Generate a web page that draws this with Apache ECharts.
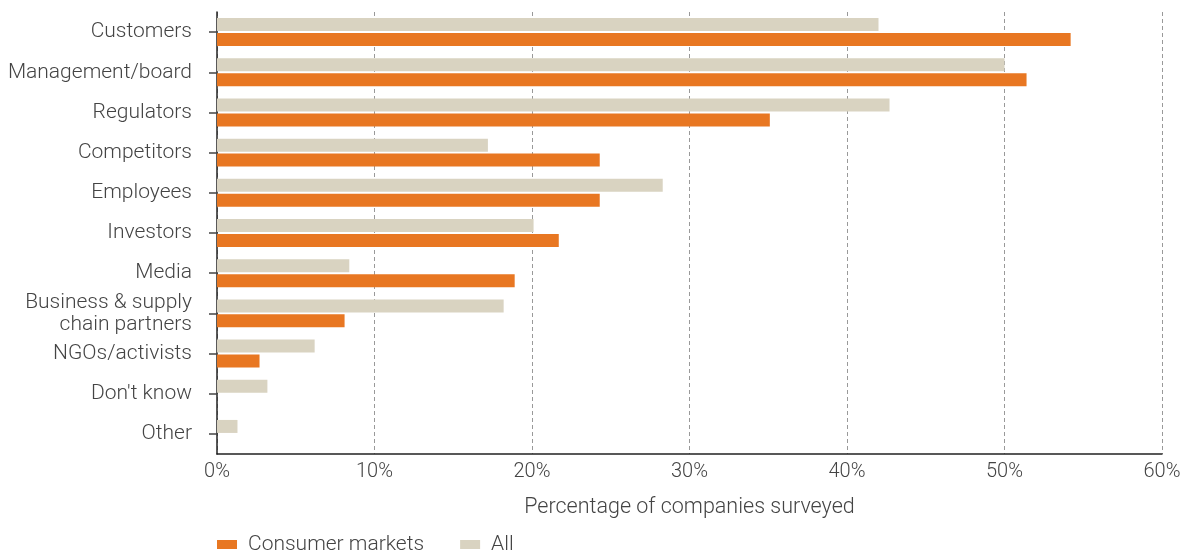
<!DOCTYPE html>
<html>
<head>
<meta charset="utf-8">
<script src="https://cdn.jsdelivr.net/npm/echarts@6/dist/echarts.min.js"></script>
<style>html,body{margin:0;padding:0;background:#fff;}#c{width:1186px;height:553px;}</style>
</head>
<body>
<div id="c"></div>
<script>
const categories = ["Customers", "Management/board", "Regulators", "Competitors", "Employees", "Investors", "Media", "Business & supply\nchain partners", "NGOs/activists", "Don't know", "Other"];
const consumerMarkets = [54.2, 51.4, 35.1, 24.3, 24.3, 21.7, 18.9, 8.1, 2.7, 0, 0];
const allCompanies = [42.0, 50.0, 42.7, 17.2, 28.3, 20.1, 8.4, 18.2, 6.2, 3.2, 1.3];
const xTicks = [0, 10, 20, 30, 40, 50, 60];

const chart = echarts.init(document.getElementById('c'));
const font = 'Roboto, "Liberation Sans", sans-serif';
chart.setOption({
  animation: false,
  textStyle: { fontFamily: font },
  grid: { left: 217, right: 24, top: 12, bottom: 99, containLabel: false },
  legend: {
    data: ['Consumer markets', 'All'],
    left: 217, top: 534, padding: 0,
    itemWidth: 20, itemHeight: 9, itemGap: 36,
    icon: 'rect',
    textStyle: { fontSize: 21, color: '#444', fontFamily: font, fontWeight: 300, padding: [0, 0, 0, 6] }
  },
  xAxis: {
    type: 'value', min: 0, max: 60, interval: 10,
    name: 'Percentage of companies surveyed',
    nameLocation: 'middle', nameGap: 43,
    nameTextStyle: { fontSize: 21.5, color: '#444', fontFamily: font, fontWeight: 300 },
    axisLine: { show: true, lineStyle: { color: '#222', width: 1.5 } },
    axisTick: { show: false },
    axisLabel: { fontSize: 20, color: '#444', margin: 8, fontFamily: font, fontWeight: 300,
      formatter: v => xTicks.includes(v) ? v + '%' : '' },
    splitLine: { show: true, lineStyle: { color: '#999', type: [4, 3], width: 1 } }
  },
  yAxis: {
    type: 'category', data: categories, inverse: true,
    axisLine: { show: true, lineStyle: { color: '#222', width: 1.5 } },
    axisTick: { show: true, alignWithLabel: true, length: 8, lineStyle: { color: '#444', width: 1.5 } },
    axisLabel: { fontSize: 21, color: '#444', margin: 25, lineHeight: 22, fontFamily: font, fontWeight: 300, padding: [0, 0, 3, 0] },
    splitLine: { show: false }
  },
  series: [
    { name: 'All', type: 'bar', data: allCompanies, barWidth: 13, barGap: '15%',
      itemStyle: { color: '#D9D3C1' } },
    { name: 'Consumer markets', type: 'bar', data: consumerMarkets, barWidth: 13, barGap: '15%',
      itemStyle: { color: '#E87722' } }
  ]
});
</script>
</body>
</html>
